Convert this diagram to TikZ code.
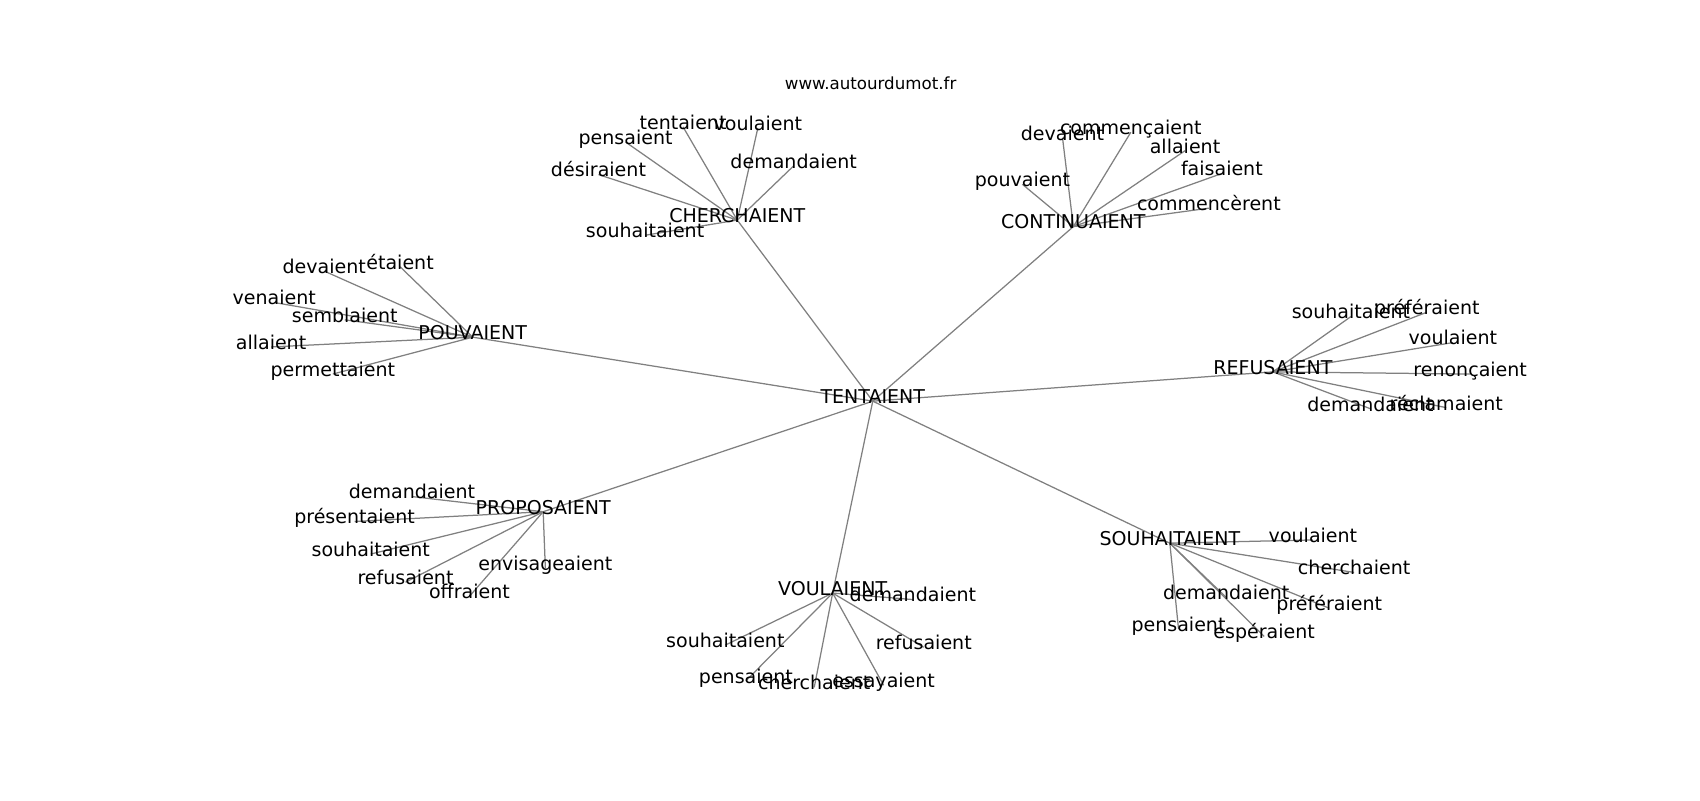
\documentclass[tikz,border=0pt]{standalone}
\usepackage{fontspec}
\setmainfont{DejaVu Sans}
\begin{document}
\begin{tikzpicture}[x=0.7806pt,y=-0.7806pt,
  word/.style={inner sep=0pt,anchor=center,text height=0.70em,text depth=0.36em,
    font=\fontsize{13.7}{16}\selectfont},
  titletext/.style={inner sep=0pt,anchor=center,font=\fontsize{12}{14}\selectfont},
  link/.style={draw=black!50,line width=0.9pt}]
\useasboundingbox (0,0) rectangle (1568,737.9);
\node[titletext] (title) at (803,77) {www.autourdumot.fr};
% hubs
\coordinate (T) at (805,370);
\coordinate (CH) at (680,203);
\coordinate (CO) at (990,209);
\coordinate (PO) at (436,311);
\coordinate (RE) at (1174,343);
\coordinate (PR) at (501,472);
\coordinate (VO) at (768,547);
\coordinate (SO) at (1079,501);
% leaves
\coordinate (ch1) at (630,117);
\coordinate (ch2) at (699,118);
\coordinate (ch3) at (577,131);
\coordinate (ch4) at (732,153);
\coordinate (ch5) at (552,161);
\coordinate (ch6) at (595,217);
\coordinate (co1) at (980,127);
\coordinate (co2) at (1043,122);
\coordinate (co3) at (1093,139);
\coordinate (co4) at (1127,160);
\coordinate (co5) at (943,170);
\coordinate (co6) at (1115,192);
\coordinate (po1) at (299,250);
\coordinate (po2) at (369,246);
\coordinate (po3) at (253,279);
\coordinate (po4) at (318,295);
\coordinate (po5) at (250,320);
\coordinate (po6) at (307,345);
\coordinate (re1) at (1246,292);
\coordinate (re2) at (1316,288);
\coordinate (re3) at (1340,316);
\coordinate (re4) at (1356,345);
\coordinate (re5) at (1264,377);
\coordinate (re6) at (1334,376);
\coordinate (pr1) at (380,458);
\coordinate (pr2) at (327,481);
\coordinate (pr3) at (342,511);
\coordinate (pr4) at (374,537);
\coordinate (pr5) at (433,550);
\coordinate (pr6) at (503,524);
\coordinate (vo1) at (842,553);
\coordinate (vo2) at (669,595);
\coordinate (vo3) at (852,597);
\coordinate (vo4) at (688,628);
\coordinate (vo5) at (751,634);
\coordinate (vo6) at (815,632);
\coordinate (so1) at (1211,498);
\coordinate (so2) at (1249,528);
\coordinate (so3) at (1131,551);
\coordinate (so4) at (1226,561);
\coordinate (so5) at (1087,580);
\coordinate (so6) at (1166,587);
% edges
\foreach \h in {CH,CO,PO,RE,PR,VO,SO} \draw[link] (T) -- (\h);
\foreach \i in {1,...,6} {
  \draw[link] (CH) -- (ch\i);
  \draw[link] (CO) -- (co\i);
  \draw[link] (PO) -- (po\i);
  \draw[link] (RE) -- (re\i);
  \draw[link] (PR) -- (pr\i);
  \draw[link] (VO) -- (vo\i);
  \draw[link] (SO) -- (so\i);
}
% labels
\node[word] (nT) at (T) {TENTAIENT};
\node[word] (nCH) at (CH) {CHERCHAIENT};
\node[word] (nCO) at (CO) {CONTINUAIENT};
\node[word] (nPO) at (PO) {POUVAIENT};
\node[word] (nRE) at (RE) {REFUSAIENT};
\node[word] (nPR) at (PR) {PROPOSAIENT};
\node[word] (nVO) at (VO) {VOULAIENT};
\node[word] (nSO) at (SO) {SOUHAITAIENT};
\node[word] (nch1) at (ch1) {tentaient};
\node[word] (nch2) at (ch2) {voulaient};
\node[word] (nch3) at (ch3) {pensaient};
\node[word] (nch4) at (ch4) {demandaient};
\node[word] (nch5) at (ch5) {désiraient};
\node[word] (nch6) at (ch6) {souhaitaient};
\node[word] (nco1) at (co1) {devaient};
\node[word] (nco2) at (co2) {commençaient};
\node[word] (nco3) at (co3) {allaient};
\node[word] (nco4) at (co4) {faisaient};
\node[word] (nco5) at (co5) {pouvaient};
\node[word] (nco6) at (co6) {commencèrent};
\node[word] (npo1) at (po1) {devaient};
\node[word] (npo2) at (po2) {étaient};
\node[word] (npo3) at (po3) {venaient};
\node[word] (npo4) at (po4) {semblaient};
\node[word] (npo5) at (po5) {allaient};
\node[word] (npo6) at (po6) {permettaient};
\node[word] (nre1) at (re1) {souhaitaient};
\node[word] (nre2) at (re2) {préféraient};
\node[word] (nre3) at (re3) {voulaient};
\node[word] (nre4) at (re4) {renonçaient};
\node[word] (nre5) at (re5) {demandaient};
\node[word] (nre6) at (re6) {réclamaient};
\node[word] (npr1) at (pr1) {demandaient};
\node[word] (npr2) at (pr2) {présentaient};
\node[word] (npr3) at (pr3) {souhaitaient};
\node[word] (npr4) at (pr4) {refusaient};
\node[word] (npr5) at (pr5) {offraient};
\node[word] (npr6) at (pr6) {envisageaient};
\node[word] (nvo1) at (vo1) {demandaient};
\node[word] (nvo2) at (vo2) {souhaitaient};
\node[word] (nvo3) at (vo3) {refusaient};
\node[word] (nvo4) at (vo4) {pensaient};
\node[word] (nvo5) at (vo5) {cherchaient};
\node[word] (nvo6) at (vo6) {essayaient};
\node[word] (nso1) at (so1) {voulaient};
\node[word] (nso2) at (so2) {cherchaient};
\node[word] (nso3) at (so3) {demandaient};
\node[word] (nso4) at (so4) {préféraient};
\node[word] (nso5) at (so5) {pensaient};
\node[word] (nso6) at (so6) {espéraient};
\end{tikzpicture}
\end{document}
